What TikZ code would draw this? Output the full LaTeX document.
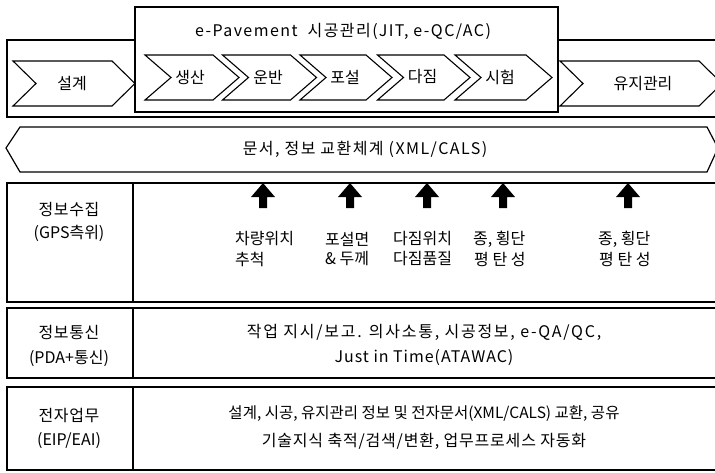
\documentclass[tikz,border=0pt]{standalone}
\usepackage{fontspec}
\setmainfont{Noto Sans CJK KR}
\newcommand\mychev[5]{\draw[chev] (#1,#3) -- ({#2-#5},#3) -- (#2,{(#3+#4)/2}) -- ({#2-#5},#4) -- (#1,#4) -- ({#1+#5},{(#3+#4)/2}) -- cycle;}
\newcommand\myup[1]{\fill[uparrow] ({#1-4},208) -- ({#1-4},197) -- ({#1-12},197) -- (#1,183) -- ({#1+12},197) -- ({#1+4},197) -- ({#1+4},208) -- cycle;}
\newcommand\fsz[2]{\fontsize{#1}{#1}\selectfont\addfontfeature{LetterSpace=#2}}
\begin{document}
\begin{tikzpicture}[x=1pt,y=-1pt,line join=miter,
  frame/.style={draw=black,line width=1.4pt},
  chev/.style={draw=black,line width=1.1pt,fill=white},
  txt/.style={font=\fsz{16}{0},inner sep=0pt},
  ltxt/.style={txt,anchor=west},
  uparrow/.style={fill=black}]
\useasboundingbox (0,0) rectangle (715,472);
\clip (0,0) rectangle (715,472);
\fill[white] (0,0) rectangle (715,472);
% top process band
\draw[frame] (7,40) rectangle (722,117);
\draw[frame,fill=white] (135,7) rectangle (558,112);
\node[txt,font=\fsz{16}{9}] (title) at (343,31) {e-Pavement\ \ 시공관리(JIT, e-QC/AC)};
\mychev{13}{135}{61}{106}{23}
\node[txt] (s1) at (72,84) {설계};
\mychev{145}{239}{55}{100}{26}
\node[txt] (s2) at (190,77) {생산};
\mychev{222.5}{316.5}{55}{100}{26}
\node[txt] (s3) at (268,77) {운반};
\mychev{300}{392}{55}{100}{26}
\node[txt] (s4) at (345,77) {포설};
\mychev{377.5}{470}{55}{100}{26}
\node[txt] (s5) at (422.5,77) {다짐};
\mychev{455}{552}{55}{100}{26}
\node[txt] (s6) at (500,77) {시험};
\mychev{560}{722}{61}{106}{23}
\node[txt] (s7) at (643,84) {유지관리};
% exchange banner
\draw[frame,line width=1.2pt] (6,148) -- (20,127) -- (707,127) -- (718,148) -- (707,172) -- (20,172) -- cycle;
\node[txt,font=\fsz{16}{9}] (xchg) at (365,149) {문서, 정보 교환체계 (XML/CALS)};
% row 1
\draw[frame] (7,183) rectangle (722,302);
\draw[frame] (133,183) -- (133,302);
\node[txt,font=\fsz{16}{4}] (r1a) at (69,210) {정보수집};
\node[txt] (r1b) at (69,233) {(GPS측위)};
\myup{263}\myup{350}\myup{427}\myup{503}\myup{628}
\node[ltxt] (a1) at (235,239) {차량위치};
\node[ltxt] (a2) at (235,259) {추척};
\node[ltxt] (b1) at (325,239) {포설면};
\node[ltxt] (b2) at (325,259) {\& 두께};
\node[ltxt] (c1) at (393,239) {다짐위치};
\node[ltxt] (c2) at (393,259) {다짐품질};
\node[ltxt] (d1) at (473,239) {종, 횡단};
\node[ltxt] (d2) at (474,259) {평 탄 성};
\node[ltxt] (e1) at (598,239) {종, 횡단};
\node[ltxt] (e2) at (599,259) {평 탄 성};
% row 2
\draw[frame] (7,308) rectangle (722,378);
\draw[frame] (133,308) -- (133,378);
\node[txt,font=\fsz{16}{4}] (r2a) at (69,332) {정보통신};
\node[txt] (r2b) at (69,358) {(PDA+통신)};
\node[txt,font=\fsz{16}{11}] (r2c) at (424,332) {작업 지시/보고. 의사소통, 시공정보, e-QA/QC,};
\node[txt,font=\fsz{16}{6}] (r2d) at (424,358) {Just in Time(ATAWAC)};
% row 3
\draw[frame] (7,387) rectangle (722,470);
\draw[frame] (133,387) -- (133,470);
\node[txt,font=\fsz{16}{4}] (r3a) at (69,415) {전자업무};
\node[txt] (r3b) at (69,441) {(EIP/EAI)};
\node[txt,font=\fsz{15.5}{0}] (r3c) at (424,414) {설계, 시공, 유지관리 정보 및 전자문서(XML/CALS) 교환, 공유};
\node[txt,font=\fsz{16}{5}] (r3d) at (424,441) {기술지식 축적/검색/변환, 업무프로세스 자동화};
\end{tikzpicture}
\end{document}
